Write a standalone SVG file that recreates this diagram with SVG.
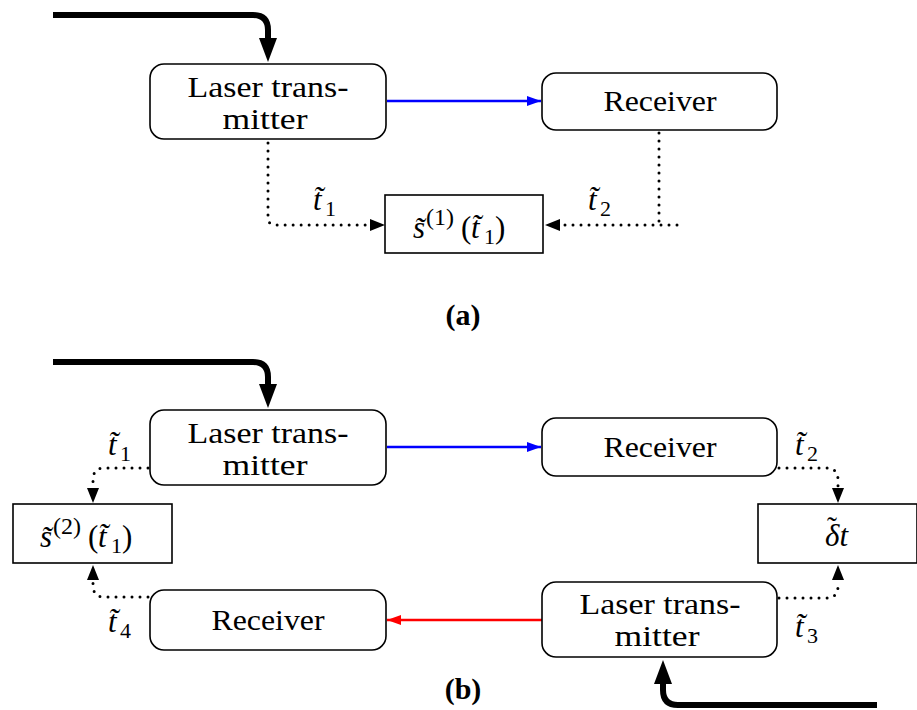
<svg xmlns="http://www.w3.org/2000/svg" width="917" height="710" viewBox="0 0 917 710">
<style>
.box{fill:#fff;stroke:#000;stroke-width:1.6}
.t{font-family:"Liberation Serif","DejaVu Serif",serif;font-size:30px;fill:#000}
.m{font-family:"Liberation Serif","DejaVu Serif",serif;font-size:31px;fill:#000}
.i{font-style:italic}
.sb{font-size:22px}
.sp{font-size:24px}
.tl{font-size:30px}
.dot{fill:none;stroke:#000;stroke-width:3;stroke-linecap:round;stroke-dasharray:0 8}
.thick{fill:none;stroke:#000;stroke-width:6}
.cap{font-family:"Liberation Serif","DejaVu Serif",serif;font-weight:bold;font-size:30px;fill:#000}
</style>
<defs>
<marker id="ab" viewBox="0 0 14 10" refX="14" refY="5" markerWidth="14" markerHeight="10" markerUnits="userSpaceOnUse" orient="auto"><path d="M0,0 L14,5 L0,10 Z" fill="#00f"/></marker>
<marker id="ar" viewBox="0 0 14 10" refX="14" refY="5" markerWidth="14" markerHeight="10" markerUnits="userSpaceOnUse" orient="auto"><path d="M0,0 L14,5 L0,10 Z" fill="#f00"/></marker>
</defs>

<g id="connectors">
<!-- (a) -->
<path class="thick" d="M53,15 H253 Q268,15 268,30 V46"/>
<path d="M268,38 L277,38 L268,62 L259,38 Z" fill="#000"/>
<line x1="387" y1="101" x2="541" y2="101" stroke="#00f" stroke-width="2.5" marker-end="url(#ab)"/>
<path class="dot" d="M268,143 V218 Q268,225 276,225 H370"/>
<path d="M370,219 L385,225 L370,231 Z" fill="#000"/>
<path class="dot" d="M659,133 V222"/>
<path class="dot" d="M677,225 H562"/>
<path d="M560,219 L545,225 L560,231 Z" fill="#000"/>
<!-- (b) -->
<path class="thick" d="M53,362 H253 Q268,362 268,377 V392"/>
<path d="M268,384 L277,384 L268,408 L259,384 Z" fill="#000"/>
<line x1="387" y1="447" x2="541" y2="447" stroke="#00f" stroke-width="2.5" marker-end="url(#ab)"/>
<line x1="542" y1="620" x2="387" y2="620" stroke="#f00" stroke-width="2.5" marker-end="url(#ar)"/>
<path class="dot" d="M148,468 H104 Q93,468 93,480 V486"/>
<path d="M87,488 L93,503 L99,488 Z" fill="#000"/>
<path class="dot" d="M148,597 H104 Q93,597 93,585 V582"/>
<path d="M87,580 L93,565 L99,580 Z" fill="#000"/>
<path class="dot" d="M779,468 H826 Q838,468 838,480 V486"/>
<path d="M832,488 L838,503 L844,488 Z" fill="#000"/>
<path class="dot" d="M779,598 H826 Q838,598 838,586 V582"/>
<path d="M832,580 L838,565 L844,580 Z" fill="#000"/>
<path class="thick" d="M877,705 H678 Q663,705 663,690 V676"/>
<path d="M663,684 L654,684 L663,660 L672,684 Z" fill="#000"/>
</g>

<g id="a-laser">
<rect class="box" x="150" y="64" width="236" height="75" rx="14"/>
<text class="t" x="268" y="97" text-anchor="middle" textLength="161" lengthAdjust="spacingAndGlyphs">Laser trans-</text>
<text class="t" x="265" y="129" text-anchor="middle" textLength="85" lengthAdjust="spacingAndGlyphs">mitter</text>
</g>
<g id="a-receiver">
<rect class="box" x="542" y="73" width="235" height="57" rx="14"/>
<text class="t" x="660" y="111" text-anchor="middle" textLength="113" lengthAdjust="spacingAndGlyphs">Receiver</text>
</g>
<g id="a-s">
<rect class="box" x="385" y="195" width="158" height="58"/>
<text class="m"><tspan class="i" x="413" y="238">s̃</tspan><tspan class="sp" x="426" y="225">(1)</tspan><tspan x="461" y="238">(</tspan><tspan class="i" x="471" y="238">t̃</tspan><tspan class="sb" x="484" y="244">1</tspan><tspan x="495" y="238">)</tspan></text>
</g>
<g id="a-labels">
<text class="m"><tspan class="i" x="313" y="210">t̃</tspan><tspan class="sb" x="325" y="216">1</tspan></text>
<text class="m"><tspan class="i" x="588" y="210">t̃</tspan><tspan class="sb" x="600" y="216">2</tspan></text>
<text class="cap" x="463" y="325" text-anchor="middle">(a)</text>
</g>

<g id="b-laser1">
<rect class="box" x="150" y="410" width="236" height="75" rx="14"/>
<text class="t" x="268" y="443" text-anchor="middle" textLength="161" lengthAdjust="spacingAndGlyphs">Laser trans-</text>
<text class="t" x="265" y="475" text-anchor="middle" textLength="85" lengthAdjust="spacingAndGlyphs">mitter</text>
</g>
<g id="b-receiver1">
<rect class="box" x="542" y="418" width="235" height="58" rx="14"/>
<text class="t" x="660" y="457" text-anchor="middle" textLength="113" lengthAdjust="spacingAndGlyphs">Receiver</text>
</g>
<g id="b-s">
<rect class="box" x="13" y="504" width="159" height="59"/>
<text class="m"><tspan class="i" x="40" y="547">s̃</tspan><tspan class="sp" x="53" y="534">(2)</tspan><tspan x="88" y="547">(</tspan><tspan class="i" x="98" y="547">t̃</tspan><tspan class="sb" x="111" y="553">1</tspan><tspan x="122" y="547">)</tspan></text>
</g>
<g id="b-dt">
<rect class="box" x="758" y="504" width="159" height="59"/>
<text class="m"><tspan class="i" x="825" y="546">δt</tspan><tspan class="tl" x="827" y="537">˜</tspan></text>
</g>
<g id="b-receiver2">
<rect class="box" x="150" y="590" width="236" height="60" rx="14"/>
<text class="t" x="268" y="630" text-anchor="middle" textLength="113" lengthAdjust="spacingAndGlyphs">Receiver</text>
</g>
<g id="b-laser2">
<rect class="box" x="542" y="582" width="235" height="75" rx="14"/>
<text class="t" x="660" y="614" text-anchor="middle" textLength="161" lengthAdjust="spacingAndGlyphs">Laser trans-</text>
<text class="t" x="657" y="646" text-anchor="middle" textLength="85" lengthAdjust="spacingAndGlyphs">mitter</text>
</g>
<g id="b-labels">
<text class="m"><tspan class="i" x="108" y="455">t̃</tspan><tspan class="sb" x="120" y="461">1</tspan></text>
<text class="m"><tspan class="i" x="108" y="632">t̃</tspan><tspan class="sb" x="120" y="638">4</tspan></text>
<text class="m"><tspan class="i" x="795" y="455">t̃</tspan><tspan class="sb" x="807" y="461">2</tspan></text>
<text class="m"><tspan class="i" x="795" y="637">t̃</tspan><tspan class="sb" x="807" y="643">3</tspan></text>
<text class="cap" x="463" y="699" text-anchor="middle">(b)</text>
</g>
</svg>
